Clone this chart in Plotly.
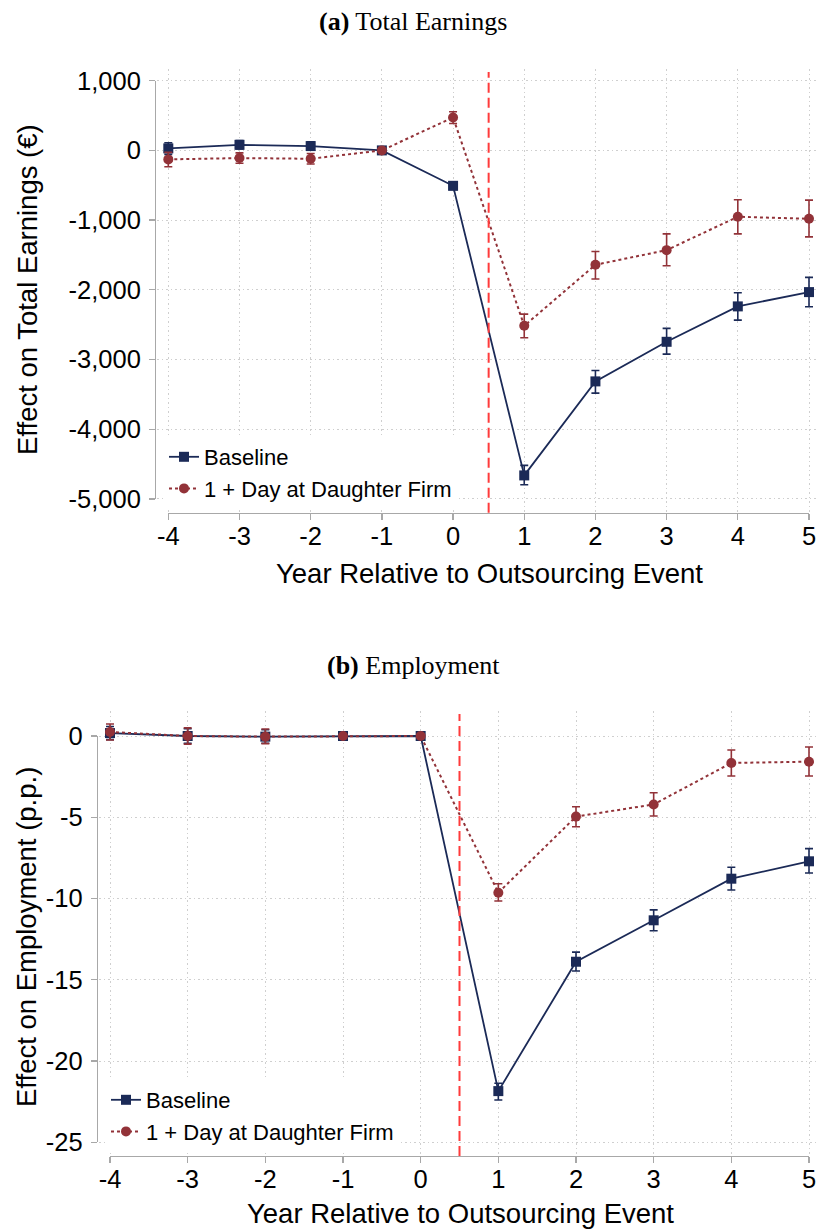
import plotly.graph_objects as go

# ---------------- data ----------------
years = [-4, -3, -2, -1, 0, 1, 2, 3, 4, 5]

# Panel (a): Effect on total earnings (EUR)
earn_base = [29, 80, 62, 0, -508, -4663, -3314, -2746, -2238, -2033]
earn_base_lo = [-57, 20, 2, -8, -560, -4797, -3482, -2923, -2435, -2244]
earn_base_hi = [109, 140, 122, 8, -456, -4519, -3157, -2554, -2043, -1822]

earn_day = [-129, -110, -120, 0, 473, -2517, -1641, -1431, -952, -981]
earn_day_lo = [-235, -185, -195, -8, 387, -2689, -1844, -1656, -1197, -1240]
earn_day_hi = [-29, -35, -45, 8, 554, -2349, -1450, -1197, -709, -713]

# Panel (b): Effect on employment (p.p.)
emp_base = [0.18, 0.0, -0.04, 0.0, 0.0, -21.85, -13.89, -11.34, -8.78, -7.71]
emp_base_lo = [-0.22, -0.45, -0.45, -0.05, -0.05, -22.40, -14.46, -11.98, -9.48, -8.43]
emp_base_hi = [0.58, 0.45, 0.38, 0.05, 0.05, -21.37, -13.30, -10.70, -8.08, -6.93]

emp_day = [0.25, 0.0, -0.04, 0.0, 0.0, -9.64, -4.96, -4.21, -1.66, -1.58]
emp_day_lo = [-0.25, -0.50, -0.47, -0.05, -0.05, -10.15, -5.58, -4.92, -2.46, -2.46]
emp_day_hi = [0.74, 0.50, 0.43, 0.05, 0.05, -9.09, -4.35, -3.49, -0.86, -0.68]

x_tickvals = [-4, -3, -2, -1, 0, 1, 2, 3, 4, 5]
x_ticktext = ["-4", "-3", "-2", "-1", "0", "1", "2", "3", "4", "5"]
earn_tickvals = [-5000, -4000, -3000, -2000, -1000, 0, 1000]
earn_ticktext = ["-5,000", "-4,000", "-3,000", "-2,000", "-1,000", "0", "1,000"]
emp_tickvals = [-25, -20, -15, -10, -5, 0]
emp_ticktext = ["-25", "-20", "-15", "-10", "-5", "0"]

event_line_x = 0.5
series_names = ["Baseline", "1 + Day at Daughter Firm"]

# ---------------- style ----------------
W, H = 823, 1230
NAVY = "#1b2a57"
CRAN = "#923238"
VRED = "#ff3b3b"
GRID = "#cfcfcf"
AXC = "#a8a8a8"
SANS = "Liberation Sans, Arial, sans-serif"
SERIF = "Liberation Serif, Times New Roman, serif"
TICK_FS = 25.5
TITLE_FS = 27.5
LEG_FS = 22


def fx(p):
    return p / W


def fy(p):
    return 1 - p / H


panels = [
    dict(xt=(168.3, 809.0), yt=(80.7, 498.9), area_x=(157, 817), area_y=(69, 512.7),
         yline=155, xline=512.7, yvals=earn_tickvals, ytext=earn_ticktext,
         legend_xy=(164, 436), title="<b>(a)</b> Total Earnings", title_y=21,
         ytitle="Effect on Total Earnings (€)", ytitle_xy=(27, 290), xtitle_xy=(489, 573),
         series=[(earn_base, earn_base_lo, earn_base_hi), (earn_day, earn_day_lo, earn_day_hi)]),
    dict(xt=(110.0, 809.0), yt=(736.0, 1142.3), area_x=(99, 817), area_y=(711, 1156),
         yline=96.7, xline=1156, yvals=emp_tickvals, ytext=emp_ticktext,
         legend_xy=(106, 1079), title="<b>(b)</b> Employment", title_y=665,
         ytitle="Effect on Employment (p.p.)", ytitle_xy=(26, 937), xtitle_xy=(460, 1213),
         series=[(emp_base, emp_base_lo, emp_base_hi), (emp_day, emp_day_lo, emp_day_hi)]),
]

fig = go.Figure()
layout = dict(width=W, height=H, margin=dict(l=0, r=0, t=0, b=0, autoexpand=False),
              paper_bgcolor="white", plot_bgcolor="rgba(0,0,0,0)",
              font=dict(family=SANS, color="black"), showlegend=True)
annotations = []
shapes = []

for i, p in enumerate(panels):
    dx = "x" if i == 0 else "x3"
    dy = "y" if i == 0 else "y3"
    ox = "x2" if i == 0 else "x4"
    oy = "y2" if i == 0 else "y4"
    leg = "legend" if i == 0 else "legend2"

    xmin_v, xmax_v = min(x_tickvals), max(x_tickvals)
    ymin_v, ymax_v = min(p["yvals"]), max(p["yvals"])
    sx = (p["xt"][1] - p["xt"][0]) / (xmax_v - xmin_v)
    sy = (p["yt"][1] - p["yt"][0]) / (ymax_v - ymin_v)
    xr = [xmin_v - (p["xt"][0] - p["area_x"][0]) / sx, xmax_v + (p["area_x"][1] - p["xt"][1]) / sx]
    yr = [ymin_v - (p["area_y"][1] - p["yt"][1]) / sy, ymax_v + (p["yt"][0] - p["area_y"][0]) / sy]

    # data axes (grid only)
    layout["xaxis" + ("" if i == 0 else "3")] = dict(
        domain=[fx(p["area_x"][0]), fx(p["area_x"][1])], range=xr, anchor=dy,
        tickvals=x_tickvals, showticklabels=False, ticks="", showline=False,
        showgrid=True, gridcolor=GRID, griddash="1.5px,3px", gridwidth=1, zeroline=False,
        fixedrange=True)
    layout["yaxis" + ("" if i == 0 else "3")] = dict(
        domain=[fy(p["area_y"][1]), fy(p["area_y"][0])], range=yr, anchor=dx,
        tickvals=p["yvals"], showticklabels=False, ticks="", showline=False,
        showgrid=True, gridcolor=GRID, griddash="1.5px,3px", gridwidth=1, zeroline=False,
        fixedrange=True)
    # decorative axes (lines, ticks, labels)
    layout["xaxis" + ("2" if i == 0 else "4")] = dict(
        domain=[fx(p["xt"][0]), fx(p["xt"][1])], range=[xmin_v, xmax_v], anchor="free",
        position=fy(p["xline"]), tickvals=x_tickvals, ticktext=x_ticktext,
        ticks="outside", ticklen=6, tickwidth=1.3, tickcolor=AXC, showline=True,
        linecolor=AXC, linewidth=1.3, showgrid=False, zeroline=False, fixedrange=True,
        tickfont=dict(size=TICK_FS, family=SANS, color="black"), ticklabelstandoff=-6)
    layout["yaxis" + ("2" if i == 0 else "4")] = dict(
        domain=[fy(p["yt"][1]), fy(p["yt"][0])], range=[ymin_v, ymax_v], anchor="free",
        position=fx(p["yline"]), tickvals=p["yvals"], ticktext=p["ytext"],
        ticks="outside", ticklen=6, tickwidth=1.3, tickcolor=AXC, showline=True,
        linecolor=AXC, linewidth=1.3, showgrid=False, zeroline=False, fixedrange=True,
        tickfont=dict(size=TICK_FS, family=SANS, color="black"), ticklabelstandoff=3)

    # invisible trace to activate decorative axes
    fig.add_trace(go.Scatter(x=x_tickvals, y=[None] * len(x_tickvals), xaxis=ox, yaxis=oy,
                             mode="markers", showlegend=False, hoverinfo="skip"))

    styles = [
        dict(color=NAVY, symbol="square", size=10, dash="solid", width=1.8),
        dict(color=CRAN, symbol="circle", size=10, dash="dot", width=2),
    ]
    for k, (vals, lo, hi) in enumerate(p["series"]):
        st = styles[k]
        fig.add_trace(go.Scatter(
            x=years, y=vals, xaxis=dx, yaxis=dy, mode="lines+markers", name=series_names[k],
            legend=leg, legendgroup=f"g{i}",
            line=dict(color=st["color"], width=st["width"], dash=st["dash"]),
            marker=dict(color=st["color"], symbol=st["symbol"], size=st["size"]),
            error_y=dict(type="data", symmetric=False,
                         array=[h - v for h, v in zip(hi, vals)],
                         arrayminus=[v - l for v, l in zip(vals, lo)],
                         color=st["color"], thickness=1.6, width=4),
            cliponaxis=False))

    layout[leg] = dict(x=fx(p["legend_xy"][0]), y=fy(p["legend_xy"][1]), xanchor="left",
                       yanchor="top", bgcolor="white", borderwidth=0,
                       font=dict(size=LEG_FS, family=SANS, color="black"),
                       tracegroupgap=0)

    shapes.append(dict(type="line", xref=dx, yref="paper", x0=event_line_x,
                       x1=event_line_x, y0=fy(p["xline"]), y1=fy(p["area_y"][0] + 3),
                       line=dict(color=VRED, width=2, dash="10px,5px"), layer="above"))

    annotations.append(dict(text=p["title"], x=fx(413), y=fy(p["title_y"]), xref="paper",
                            yref="paper", showarrow=False, xanchor="center", yanchor="middle",
                            font=dict(family=SERIF, size=26, color="black")))
    annotations.append(dict(text=p["ytitle"], x=fx(p["ytitle_xy"][0]), y=fy(p["ytitle_xy"][1]),
                            xref="paper", yref="paper", showarrow=False, textangle=-90,
                            xanchor="center", yanchor="middle",
                            font=dict(family=SANS, size=TITLE_FS, color="black")))
    annotations.append(dict(text="Year Relative to Outsourcing Event", x=fx(p["xtitle_xy"][0]),
                            y=fy(p["xtitle_xy"][1]), xref="paper", yref="paper",
                            showarrow=False, xanchor="center", yanchor="middle",
                            font=dict(family=SANS, size=TITLE_FS, color="black")))

layout["annotations"] = annotations
layout["shapes"] = shapes
fig.update_layout(**layout)
fig.write_html("out.html", config={"staticPlot": True})
